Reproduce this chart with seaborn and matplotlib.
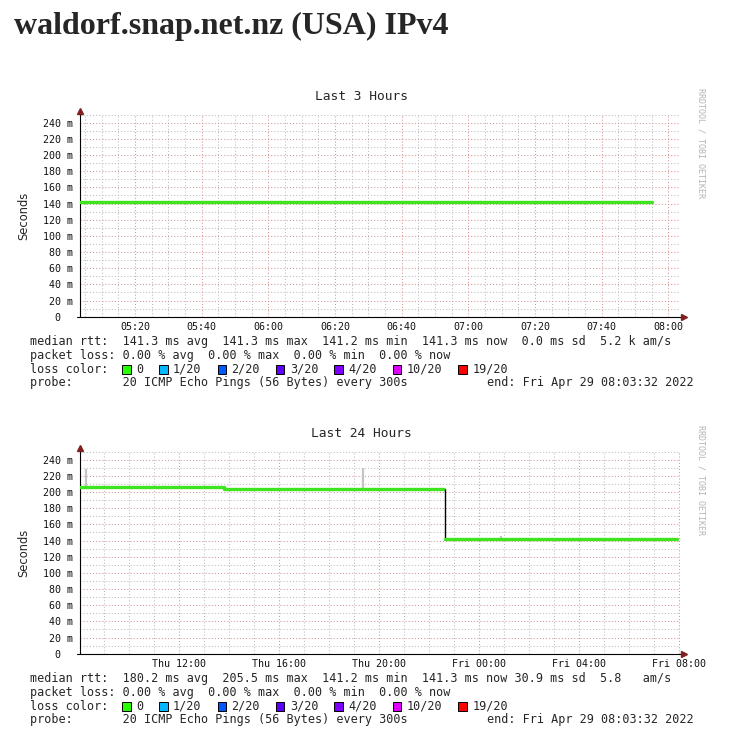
import pandas as pd
import matplotlib
matplotlib.use("Agg")
import matplotlib.pyplot as plt
import matplotlib.dates as mdates
from matplotlib.patches import Rectangle
from matplotlib.ticker import MultipleLocator, FuncFormatter
import seaborn as sns

# ---- data ----
host_title = "waldorf.snap.net.nz (USA) IPv4"

# Last 3 Hours: median rtt (ms)
p1_start, p1_end = "2022-04-29 05:03:32", "2022-04-29 08:03:32"
p1_times = ["2022-04-29 05:03:32", "2022-04-29 07:55:00"]
p1_rtt = [141.3, 141.3]

# Last 24 Hours: median rtt (ms), before and after the route change
p2_start, p2_end = "2022-04-28 08:03:32", "2022-04-29 08:03:32"
p2a_times = ["2022-04-28 08:03:32", "2022-04-28 13:50:00", "2022-04-28 22:38:00"]
p2a_rtt = [205.8, 203.9, 203.9]
p2_drop_time = "2022-04-28 22:40:00"
p2_drop = [203.9, 141.3]
p2b_times = ["2022-04-28 22:40:00", "2022-04-29 07:56:00"]
p2b_rtt = [141.3, 141.3]
# smoke spikes (ping spread)
smoke_times = ["2022-04-28 08:18:00", "2022-04-28 19:23:00", "2022-04-29 00:54:00"]
smoke_lo = [206.0, 204.0, 141.5]
smoke_hi = [228.0, 230.0, 146.0]

loss_labels = ["0", "1/20", "2/20", "3/20", "4/20", "10/20", "19/20"]
loss_colors = ["#26ff00", "#00b8ff", "#0059ff", "#5e00ff", "#7e00ff", "#dd00ff", "#ff0000"]

legend_1 = [
    "median rtt:  141.3 ms avg  141.3 ms max  141.2 ms min  141.3 ms now  0.0 ms sd  5.2 k am/s",
    "packet loss: 0.00 % avg  0.00 % max  0.00 % min  0.00 % now",
]
legend_2 = [
    "median rtt:  180.2 ms avg  205.5 ms max  141.2 ms min  141.3 ms now 30.9 ms sd  5.8   am/s",
    "packet loss: 0.00 % avg  0.00 % max  0.00 % min  0.00 % now",
]
probe_text = "probe:       20 ICMP Echo Pings (56 Bytes) every 300s"
end_text = "end: Fri Apr 29 08:03:32 2022"

sns.set_style("white")
plt.rcParams["font.family"] = ["DejaVu Sans Mono", "DejaVu Sans"]

W, H = 747, 751
fig = plt.figure(figsize=(W / 100, H / 100), dpi=100)


def fx(px):
    return px / W


def fy(py):
    return 1 - py / H


MONO = "DejaVu Sans Mono"
GREEN = "#3ee51e"
ARROW = "#802020"
fig.text(fx(14), fy(34), host_title, family="Liberation Serif", weight="bold",
         fontsize=23, va="baseline", ha="left")


def draw_panel(dy, title, start, end, major_loc, minor_loc, fmt, legend):
    ax = fig.add_axes([fx(80), fy(316.7 + dy), fx(680) - fx(80), 202.9 / H])
    ax.set_xlim(pd.Timestamp(start), pd.Timestamp(end))
    ax.set_ylim(0, 251)
    for s in ax.spines.values():
        s.set_visible(False)
    ax.xaxis.set_major_locator(major_loc)
    ax.xaxis.set_minor_locator(minor_loc)
    ax.xaxis.set_major_formatter(mdates.DateFormatter(fmt))
    ax.yaxis.set_major_locator(MultipleLocator(20))
    ax.yaxis.set_minor_locator(MultipleLocator(10))
    ax.yaxis.set_major_formatter(FuncFormatter(lambda v, p: f"{int(v)} m" if v else "0  "))
    ax.grid(which="minor", color="#bdbdbd", linestyle=(0, (1, 2)), linewidth=0.75)
    ax.grid(which="major", color="#d99494", linestyle=(0, (1, 2)), linewidth=0.75)
    ax.set_axisbelow(True)
    ax.tick_params(axis="both", which="major", labelsize=7.2, length=2.2, width=0.7,
                   color="#444444", labelcolor="#111111")
    ax.tick_params(axis="both", which="minor", length=1.4, width=0.6, color="#777777")
    ax.tick_params(axis="x", pad=1.4)
    ax.tick_params(axis="y", pad=2.6)
    for lab in ax.get_xticklabels() + ax.get_yticklabels():
        lab.set_family(MONO)
    # axes with arrows
    ax.plot([-0.005, 1.006], [0, 0], color="black", lw=0.8, transform=ax.transAxes, clip_on=False)
    ax.plot([0, 0], [0, 1.01], color="black", lw=0.8, transform=ax.transAxes, clip_on=False)
    ax.plot([1.007], [0], marker=">", ms=4, color=ARROW, transform=ax.transAxes, clip_on=False)
    ax.plot([0], [1.012], marker="^", ms=4, color=ARROW, transform=ax.transAxes, clip_on=False)

    fig.text(fx(361.5), fy(96.7 + dy), title, family=MONO, fontsize=9.3, ha="center", va="center")
    fig.text(fx(24), fy(216 + dy), "Seconds", family="DejaVu Sans", fontsize=8.3,
             rotation=90, ha="center", va="center")
    fig.text(fx(701), fy(143 + dy), "RRDTOOL / TOBI OETIKER", family=MONO, fontsize=6.0,
             color="#b4b4b4", rotation=270, ha="center", va="center")

    # legend block
    fig.text(fx(30), fy(345.2 + dy), legend[0], family=MONO, fontsize=8.5, va="baseline")
    fig.text(fx(30), fy(359.0 + dy), legend[1], family=MONO, fontsize=8.5, va="baseline")
    fig.text(fx(30), fy(372.8 + dy), "loss color:", family=MONO, fontsize=8.5, va="baseline")
    x = 122
    for lab, col in zip(loss_labels, loss_colors):
        fig.patches.append(Rectangle((fx(x), fy(373.6 + dy)), 8.5 / W, 8.5 / H, facecolor=col,
                                     edgecolor="black", lw=0.7, transform=fig.transFigure))
        fig.text(fx(x + 14), fy(372.8 + dy), lab, family=MONO, fontsize=8.5, va="baseline")
        x = x + 14 + 7.1 * len(lab) + 16
    fig.text(fx(30), fy(386.4 + dy), probe_text, family=MONO, fontsize=8.5, va="baseline")
    fig.text(fx(694), fy(386.4 + dy), end_text, family=MONO, fontsize=8.5, va="baseline", ha="right")
    return ax


ax1 = draw_panel(0, "Last 3 Hours", p1_start, p1_end,
                 mdates.MinuteLocator(byminute=[0, 20, 40]),
                 mdates.MinuteLocator(byminute=range(0, 60, 5)), "%H:%M", legend_1)
sns.lineplot(x=pd.to_datetime(p1_times), y=p1_rtt, drawstyle="steps-post",
             color=GREEN, lw=2.4, ax=ax1)

ax2 = draw_panel(337, "Last 24 Hours", p2_start, p2_end,
                 mdates.HourLocator(byhour=range(0, 24, 4)),
                 mdates.HourLocator(), "%a %H:%M", legend_2)
ax2.vlines(pd.to_datetime(smoke_times), smoke_lo, smoke_hi, color="#c4c4c4", lw=1.6)
sns.lineplot(x=pd.to_datetime(p2a_times), y=p2a_rtt, drawstyle="steps-post",
             color=GREEN, lw=2.4, ax=ax2)
ax2.vlines(pd.Timestamp(p2_drop_time), p2_drop[1], p2_drop[0], color="black", lw=1.0)
sns.lineplot(x=pd.to_datetime(p2b_times), y=p2b_rtt, drawstyle="steps-post",
             color=GREEN, lw=2.4, ax=ax2)

for ax in (ax1, ax2):
    ax.set_xlabel("")
    ax.set_ylabel("")
    for lab in ax.get_xticklabels() + ax.get_yticklabels():
        lab.set_family(MONO)

fig.savefig("out.png", dpi=100, facecolor="white")
